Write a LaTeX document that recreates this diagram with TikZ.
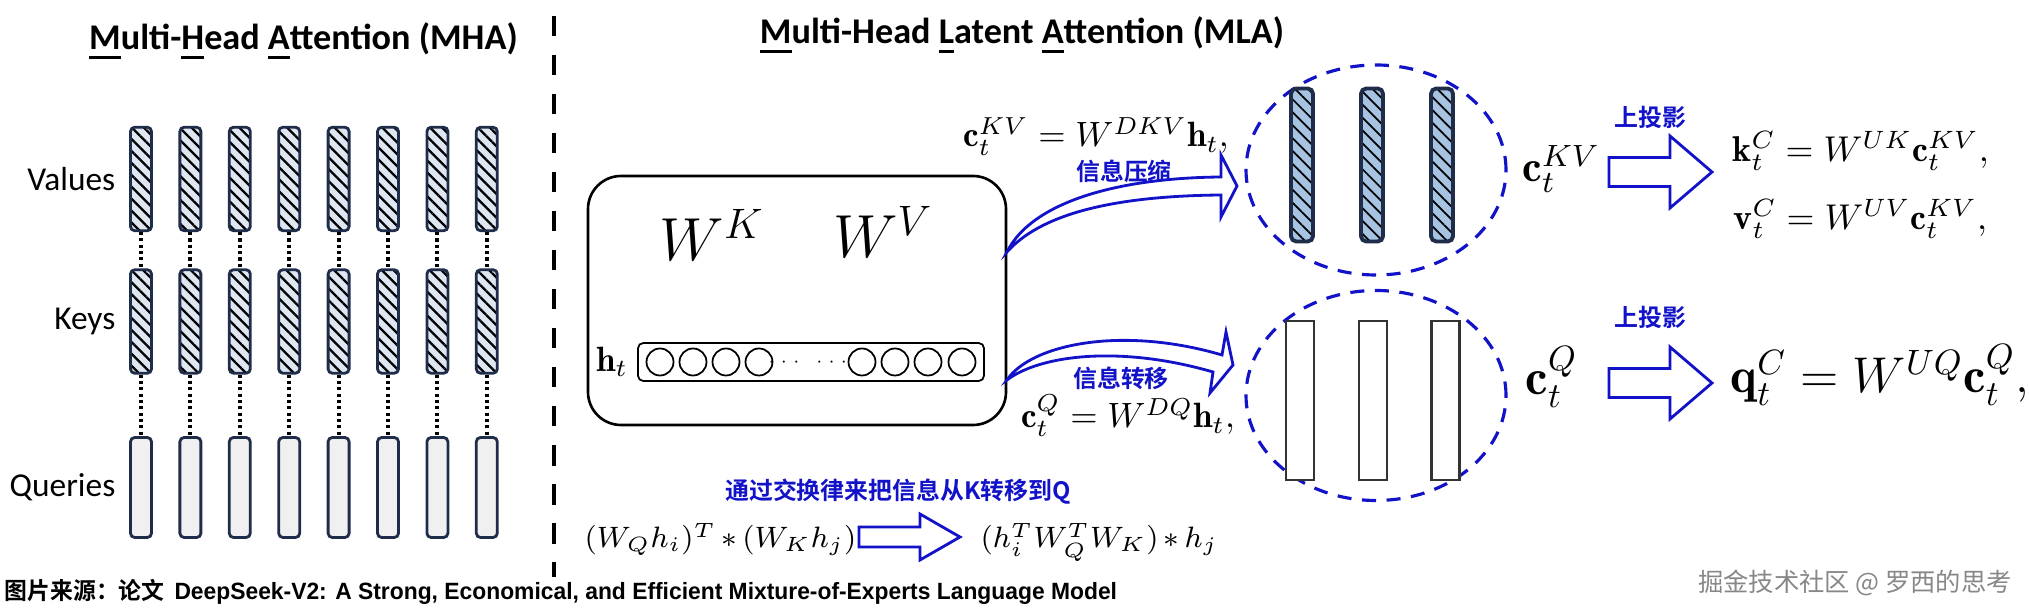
\RequirePackage{fix-cm}
\documentclass[tikz,border=0pt]{standalone}
\usepackage{amsmath, amssymb}
\usepackage{fontspec}
\usepackage{tikz}
\usetikzlibrary{shapes.geometric, positioning, calc, patterns.meta}

\newfontfamily\carlito{Carlito}
\newfontfamily\arialfont{Liberation Sans}
\newfontfamily\cjk[BoldFont={Noto Sans CJK SC Bold}]{Noto Sans CJK SC}

\definecolor{navy}{RGB}{31,45,74}
\definecolor{hatchbg}{RGB}{222,230,241}
\definecolor{qbg}{RGB}{240,240,240}
\definecolor{latbg}{RGB}{166,196,226}
\definecolor{mlablue}{RGB}{18,18,200}
\definecolor{wmgray}{RGB}{135,135,135}

\newcommand{\ulletter}[1]{\setbox0\hbox{#1}\rlap{\rule[-2.7pt]{\wd0}{1pt}}\box0}

\begin{document}
\begin{tikzpicture}[
    title/.style={font=\carlito\bfseries\fontsize{10.3}{12}\selectfont, inner sep=0pt},
    rowlbl/.style={font=\carlito\fontsize{9.5}{11}\selectfont, anchor=east, inner sep=0pt},
    headbar/.style={
        draw=navy, line width=0.8pt, rounded corners=1.2pt,
        minimum width=0.21cm, minimum height=1.035cm, inner sep=0pt,
        preaction={fill=hatchbg},
        pattern={Lines[angle=-45, distance=2.4pt, line width=0.65pt]}, pattern color=black
    },
    qbar/.style={
        draw=navy, line width=0.8pt, rounded corners=1.2pt, fill=qbg,
        minimum width=0.21cm, minimum height=1.0cm, inner sep=0pt
    },
    dots/.style={line width=1.1pt, dash pattern=on 0.9pt off 0.9pt},
    divider/.style={line width=1.3pt, dash pattern=on 5.8pt off 5.3pt},
    wbox/.style={draw, line width=0.75pt, rounded corners=0.33cm, minimum width=4.18cm, minimum height=2.49cm},
    hrow/.style={draw, line width=0.5pt, rounded corners=1.5pt, minimum width=3.46cm, minimum height=0.38cm},
    neuron/.style={circle, draw, line width=0.5pt, minimum size=0.27cm, inner sep=0pt},
    latent/.style={
        ellipse, draw=mlablue, line width=0.9pt, dash pattern=on 4pt off 3pt,
        minimum width=2.6cm, minimum height=2.1cm, inner sep=0pt
    },
    kvbar/.style={
        draw=navy, line width=1.1pt, rounded corners=1.5pt,
        minimum width=0.22cm, minimum height=1.53cm, inner sep=0pt,
        preaction={fill=latbg},
        pattern={Lines[angle=-45, distance=2.6pt, line width=0.5pt]}, pattern color=black
    },
    qlat/.style={draw=black!80, line width=0.6pt, fill=white, minimum width=0.28cm, minimum height=1.59cm, inner sep=0pt},
    wsym/.style={font=\fontsize{17.3}{20}\selectfont, inner sep=0pt},
    eqn/.style={font=\fontsize{10}{12}\selectfont, inner sep=0pt},
    cmeq/.style={font=\fontsize{8.4}{11}\selectfont, inner sep=0pt},
    cnlbl/.style={font=\cjk\bfseries\fontsize{6.8}{8}\selectfont, text=mlablue, inner sep=0pt},
    hollow/.style={draw=mlablue, line width=0.8pt, fill=white, line join=miter},
    pics/blockarr/.style n args={4}{code={
        \draw[hollow] (0,-#3) -- (#1,-#3) -- (#1,-#4) -- (#1+#2,0) -- (#1,#4) -- (#1,#3) -- (0,#3) -- cycle;
    }},
]
\path[use as bounding box] (0,0) rectangle (20.29,-6.16);

% Left: MHA
\node[title] (mhatitle) at (3.035,-0.41) {\ulletter{M}ulti-\ulletter{H}ead \ulletter{A}ttention (MHA)};

\node[rowlbl] (vlbl) at (1.16,-1.79) {Values};
\node[rowlbl] (klbl) at (1.16,-3.21) {Keys};
\node[rowlbl] (qlbl) at (1.16,-4.87) {Queries};

\foreach \i in {0,...,7} {
    \node[headbar] (v\i) at ({1.41+0.494*\i},-1.79) {};
    \node[headbar] (k\i) at ({1.41+0.494*\i},-3.215) {};
    \node[qbar] (q\i) at ({1.41+0.494*\i},-4.875) {};
    \draw[dots] (v\i.south) -- (k\i.north);
    \draw[dots] (k\i.south) -- (q\i.north);
}

\coordinate (divtop) at (5.54,-0.16);
\coordinate (divbot) at (5.54,-5.77);
\draw[divider] (divtop) -- (divbot);

% Right: MLA
\node[title] (mlatitle) at (10.22,-0.35) {\ulletter{M}ulti-Head \ulletter{L}atent \ulletter{A}ttention (MLA)};

\node[wbox] (wbox) at (7.97,-3.005) {};
\node[wsym, anchor=base] (wk) at (7.12,-2.61) {$W^K$};
\node[wsym, anchor=base] (wv) at (8.83,-2.58) {$W^V$};

\node[hrow] (hrow) at (8.11,-3.62) {};
\node[font=\fontsize{10}{12}\selectfont, inner sep=0pt] (hlbl) at (6.12,-3.62) {$\mathbf{h}_t$};
\foreach \x [count=\n] in {6.60,6.93,7.26,7.59,8.62,8.95,9.28,9.62}
    \node[neuron] (n\n) at (\x,-3.62) {};
\node[font=\fontsize{5}{6}\selectfont, inner sep=0pt] (gap) at (8.10,-3.62) {$\cdots$\hspace{3pt}$\cdots$};

\node[eqn, anchor=base] (fkv) at (10.96,-1.47) {$\mathbf{c}_t^{KV} = W^{DKV}\mathbf{h}_t,$};
\node[cnlbl] (lblkv) at (11.24,-1.71) {信息压缩};
\node[cnlbl] (lblq) at (11.21,-3.78) {信息转移};
\node[eqn, anchor=base] (fq) at (11.28,-4.28) {$\mathbf{c}_t^{Q} = W^{DQ}\mathbf{h}_t,$};

% latent vectors
\node[latent] (kvcirc) at (13.76,-1.70) {};
\node[latent] (qcirc) at (13.76,-3.955) {};
\foreach \x [count=\n] in {13.02,13.72,14.42}
    \node[kvbar] (kv\n) at (\x,-1.65) {};
\foreach \x [count=\n] in {13.00,13.73,14.455}
    \node[qlat] (ql\n) at (\x,-4.005) {};

% curved arrows out of the box
\coordinate (kvfrom) at (10.07,-2.52);
\coordinate (qfrom) at (10.07,-3.80);
\draw[hollow, shift={(kvfrom)}] (0,0) .. controls (0.23,0.47) and (1.03,0.74) .. (2.14,0.75)
    -- (2.14,0.97) -- (2.30,0.66) -- (2.14,0.35) -- (2.14,0.57)
    .. controls (1.03,0.56) and (0.33,0.37) .. (0,0) -- cycle;
\draw[hollow, shift={(qfrom)}] (0,0) .. controls (0.23,0.35) and (1.13,0.55) .. (2.15,0.25)
    -- (2.19,0.48) -- (2.26,0.15) -- (2.03,-0.13) -- (2.06,0.08)
    .. controls (1.13,0.35) and (0.33,0.25) .. (0,0) -- cycle;

\node[font=\fontsize{12.5}{15}\selectfont, inner sep=0pt, anchor=base west] (ckv) at (15.22,-1.82) {$\mathbf{c}_t^{KV}$};
\node[font=\fontsize{14.4}{16}\selectfont, inner sep=0pt, anchor=base west] (cq) at (15.25,-3.95) {$\mathbf{c}_t^{Q}$};

% up-projection
\pic (upkv) at (16.09,-1.72) {blockarr={0.61}{0.42}{0.145}{0.36}};
\pic (upq) at (16.09,-3.83) {blockarr={0.61}{0.42}{0.145}{0.36}};
\node[cnlbl] (upkvlbl) at (16.505,-1.17) {上投影};
\node[cnlbl] (upqlbl) at (16.505,-3.17) {上投影};

\node[eqn, font=\fontsize{10.2}{13}\selectfont, anchor=base west] (kform) at (17.32,-1.62) {$\mathbf{k}_t^C = W^{UK}\mathbf{c}_t^{KV},$};
\node[eqn, font=\fontsize{10.2}{13}\selectfont, anchor=base west] (vform) at (17.33,-2.30) {$\mathbf{v}_t^C = W^{UV}\mathbf{c}_t^{KV},$};
\node[eqn, font=\fontsize{14.3}{16}\selectfont, anchor=base west] (qform) at (17.30,-3.93) {$\mathbf{q}_t^C = W^{UQ}\mathbf{c}_t^{Q},$};

% commutation note
\node[cnlbl] (swap) at (8.98,-4.92) {通过交换律来把信息从K转移到Q};
\node[cmeq, anchor=base west] (lhs) at (5.84,-5.48) {$\medmuskip=3mu (W_Q h_i)^T * (W_K h_j)$};
\pic (swaparr) at (8.59,-5.37) {blockarr={0.61}{0.40}{0.10}{0.23}};
\node[cmeq, anchor=base west] (rhs) at (9.80,-5.48) {$\medmuskip=3mu (h_i^T W_Q^T W_K) * h_j$};

% source and watermark
\node[font=\fontsize{6.7}{8}\selectfont\bfseries, inner sep=0pt, anchor=base west] (src) at (0.04,-6.00)
    {\scalebox{0.97}[1]{{\cjk 图片来源：论文} {\arialfont DeepSeek-V2: A Strong, Economical, and Efficient Mixture-of-Experts Language Model}}};
\node[font=\cjk\fontsize{7.2}{9}\selectfont, text=wmgray, inner sep=0pt] (wm) at (18.55,-5.83) {掘金技术社区 @ 罗西的思考};

\end{tikzpicture}
\end{document}
